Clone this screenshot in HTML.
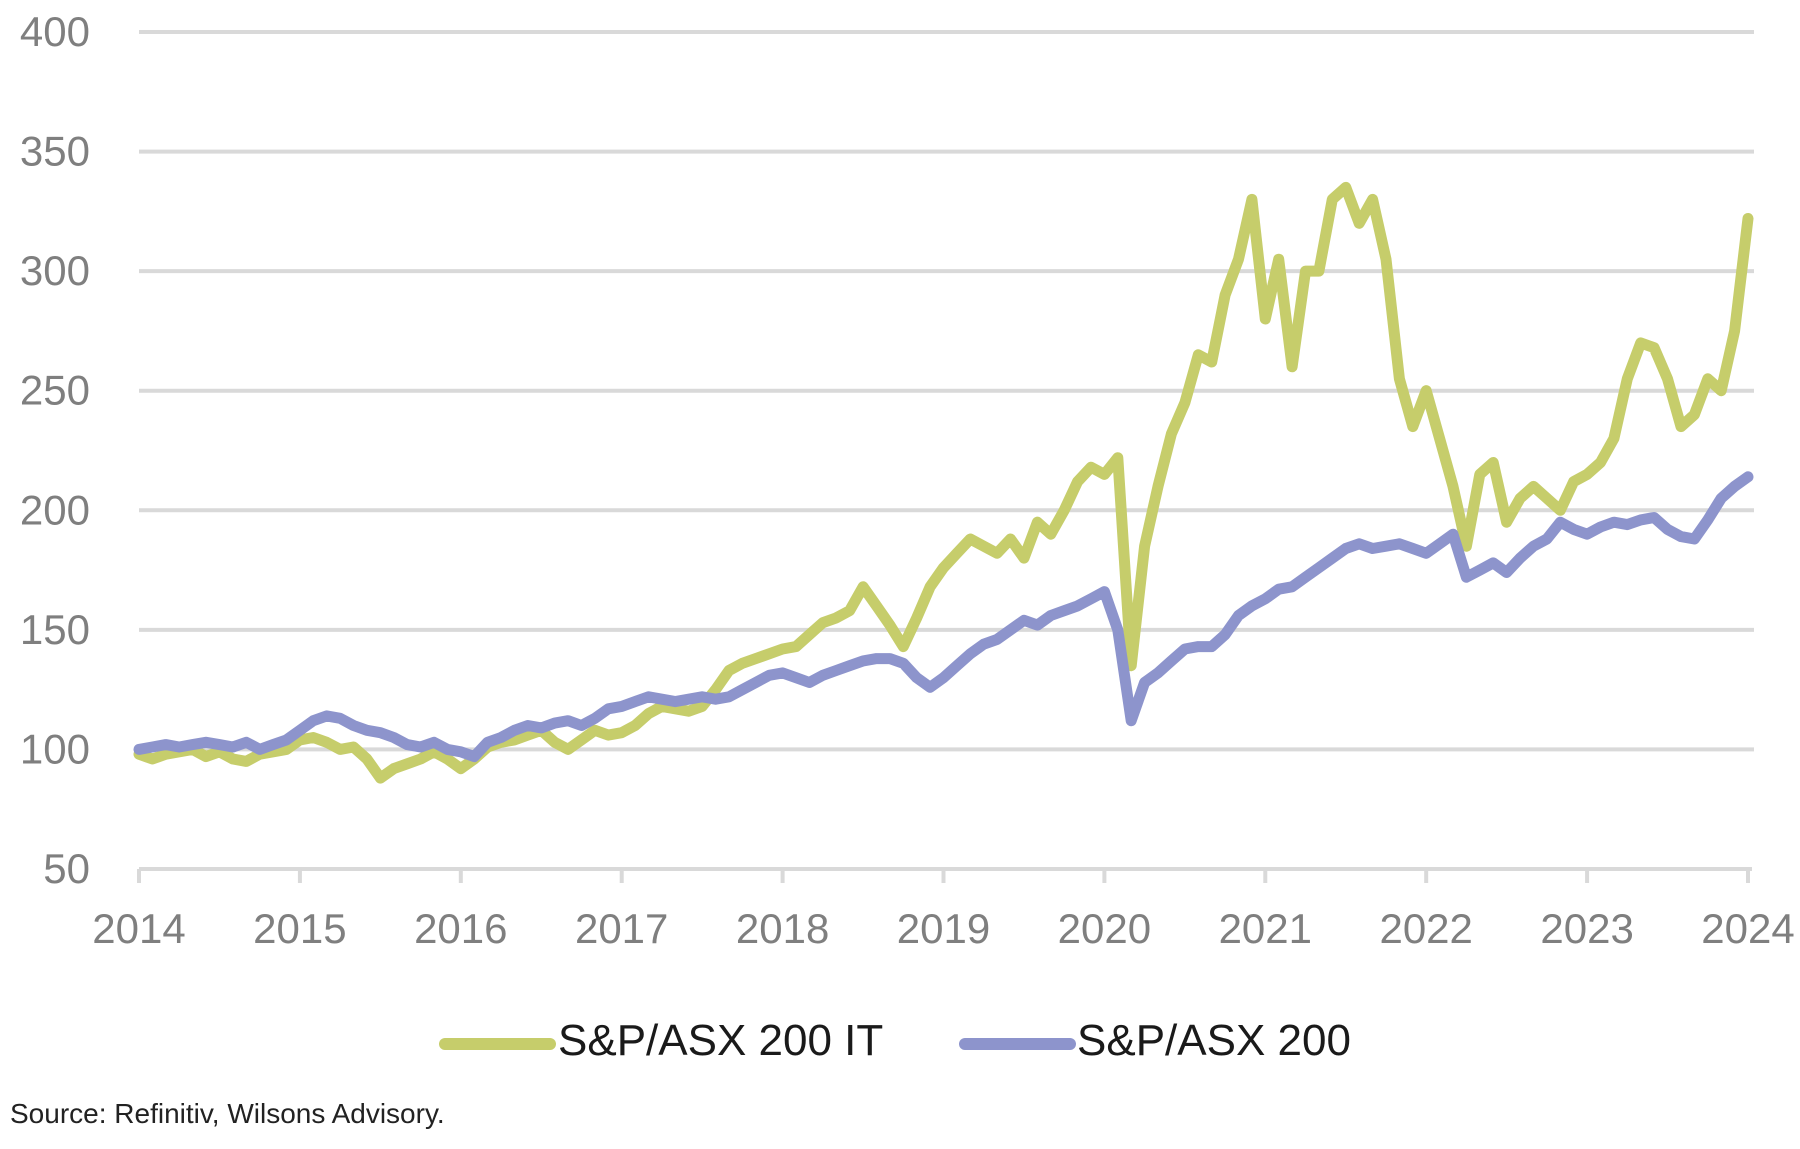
<!DOCTYPE html>
<html><head><meta charset="utf-8"><style>
body{margin:0;background:#fff;}
svg{display:block;font-family:"Liberation Sans",sans-serif;}
</style></head><body>
<svg id="chart" width="1800" height="1149" viewBox="0 0 1800 1149" xmlns="http://www.w3.org/2000/svg">
<g id="grid"></g>
<g id="yaxis"></g>
<g id="xaxis"></g>
<g id="series"></g>
<g>
<g>
<line x1="445" y1="1044" x2="550" y2="1044" stroke="#c6cd6b" stroke-width="12" stroke-linecap="round"/>
<text x="558" y="1055" font-size="44" fill="#1a1a1a">S&amp;P/ASX 200 IT</text>
</g>
<g>
<line x1="965" y1="1044" x2="1070" y2="1044" stroke="#8d94cc" stroke-width="12" stroke-linecap="round"/>
<text x="1077" y="1055" font-size="44" fill="#1a1a1a">S&amp;P/ASX 200</text>
</g>
</g>
<text x="10" y="1123" font-size="28" fill="#222">Source: Refinitiv, Wilsons Advisory.</text>
</svg>
<script>
const yTicks=[50,100,150,200,250,300,350,400];
const xTicks=[2014,2015,2016,2017,2018,2019,2020,2021,2022,2023,2024];
const startYear=2014;
const asx200=[100,101,102,101,102,103,102,101,103,100,102,104,
108,112,114,113,110,108,107,105,102,101,103,100,
99,97,103,105,108,110,109,111,112,110,113,117,
118,120,122,121,120,121,122,121,122,125,128,131,
132,130,128,131,133,135,137,138,138,136,130,126,
130,135,140,144,146,150,154,152,156,158,160,163,
166,150,112,128,132,137,142,143,143,148,156,160,
163,167,168,172,176,180,184,186,184,185,186,184,
182,186,190,172,175,178,174,180,185,188,195,192,
190,193,195,194,196,197,192,189,188,196,205,210,
214];
const asxIT=[98,96,98,99,100,97,99,96,95,98,99,100,
104,105,103,100,101,96,88,92,94,96,99,96,
92,96,101,103,104,106,108,103,100,104,108,106,
107,110,115,118,117,116,118,125,133,136,138,140,
142,143,148,153,155,158,168,160,152,143,155,168,
176,182,188,185,182,188,180,195,190,200,212,218,
215,222,135,185,210,232,245,265,262,290,305,330,
280,305,260,300,300,330,335,320,330,305,255,235,
250,230,210,185,215,220,195,205,210,205,200,212,
215,220,230,255,270,268,255,235,240,255,250,275,
322];
const NS="http://www.w3.org/2000/svg";
const X0=139,X1=1748,Y50=869,Y400=32;
function xs(t){return X0+(t-2014)/10*(X1-X0);}
function ys(v){return Y50-(v-50)/350*(Y50-Y400);}
function mk(tag,attrs,parent){const e=document.createElementNS(NS,tag);for(const k in attrs)e.setAttribute(k,attrs[k]);parent.appendChild(e);return e;}
const grid=document.getElementById('grid'),ya=document.getElementById('yaxis'),xa=document.getElementById('xaxis'),se=document.getElementById('series');
yTicks.forEach(v=>{
 if(v>50){const l=mk('line',{x1:139,x2:1754,y1:ys(v),y2:ys(v),stroke:'#d9d9d9','stroke-width':4},grid);
 
 }
 const t=mk('text',{x:90,y:ys(v)+14,'font-size':42,fill:'#7f7f7f','text-anchor':'end'},ya);
 t.textContent=v;
 
 
});
const ax=mk('line',{x1:139,x2:1752,y1:Y50,y2:Y50,stroke:'#d9d9d9','stroke-width':4},xa);


xTicks.forEach(yr=>{
 const x=xs(yr);
 const tk=mk('line',{x1:x,x2:x,y1:Y50,y2:Y50+14,stroke:'#d9d9d9','stroke-width':4},xa);
 
 
 const t=mk('text',{x:x,y:943,'font-size':42,fill:'#7f7f7f','text-anchor':'middle'},xa);
 t.textContent=yr;
 
 
});
function path(arr,color,name){
 const d=arr.map((v,i)=>(i?'L':'M')+xs(startYear+i/12).toFixed(1)+','+ys(v).toFixed(1)).join(' ');
 const p=mk('path',{d:d,fill:'none',stroke:color,'stroke-width':11,'stroke-linejoin':'round','stroke-linecap':'round'},se);
 
 
}
path(asxIT,'#c6cd6b','line-asx200-it');
path(asx200,'#8d94cc','line-asx200');
</script>
</body></html>
